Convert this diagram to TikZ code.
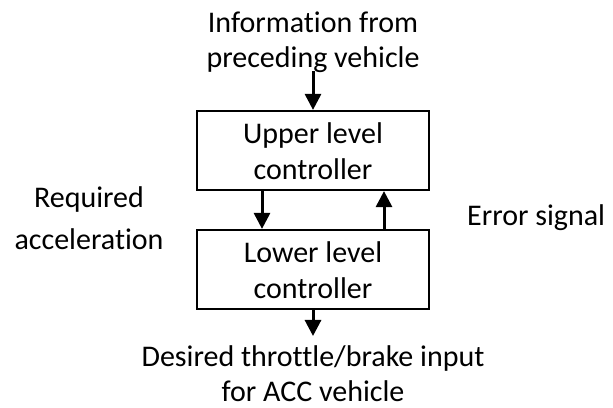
\documentclass[tikz,border=0pt]{standalone}
\usepackage{fontspec}
\setmainfont{Carlito}[Ligatures=NoCommon]
\usetikzlibrary{arrows.meta}
\begin{document}
\begin{tikzpicture}[x=1pt,y=1pt,
  txt/.style={font=\fontsize{30}{35}\selectfont, inner sep=0pt, align=center},
  intxt/.style={txt, font=\fontsize{30}{36}\selectfont},
  blockbox/.style={draw, line width=2.2pt, minimum width=232pt, minimum height=79pt, inner sep=0pt},
  sig/.style={line width=3pt, -{Triangle[length=16pt,width=16pt]}}]
\useasboundingbox (0,0) rectangle (613,407);
% controller blocks
\node[blockbox] (upper) at (313,256.5) {};
\node[blockbox] (lower) at (313,137.5) {};
\node[intxt] at ([yshift=-1pt]upper.center) {Upper level\\controller};
\node[intxt] at ([yshift=-1pt]lower.center) {Lower level\\controller};
% outside labels
\node[txt] (info) at (313,365) {Information from\\preceding vehicle};
\node[txt] (out) at (313,33) {Desired throttle/brake input\\for ACC vehicle};
\node[txt, font=\fontsize{30}{42}\selectfont] (req) at (89,189) {Required\\acceleration};
\node[txt, anchor=west] (err) at (467,189) {Error signal};
% signal flow
\coordinate (inA) at (313,336);
\coordinate (dA) at (262,0);
\coordinate (uA) at (384,0);
\coordinate (outA) at (313,71);
\draw[sig] (inA) -- (upper.north);
\draw[sig] (upper.south -| dA) -- (lower.north -| dA);
\draw[sig] (lower.north -| uA) -- (upper.south -| uA);
\draw[sig] (lower.south) -- (outA);
\end{tikzpicture}
\end{document}
